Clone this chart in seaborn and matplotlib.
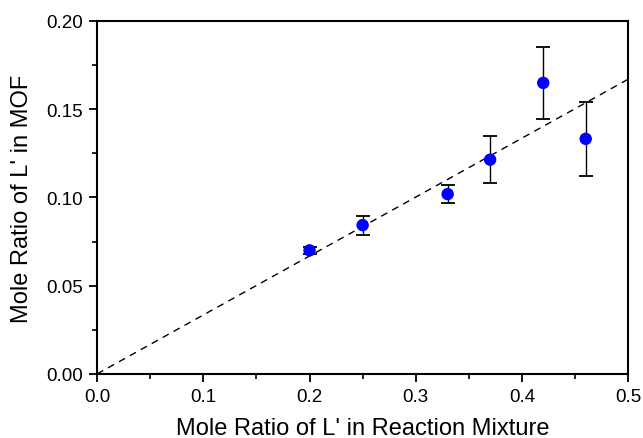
import matplotlib
matplotlib.use('Agg')
import matplotlib.pyplot as plt
from matplotlib.ticker import MultipleLocator, FormatStrFormatter
import numpy as np
import pandas as pd
import seaborn as sns

# data
feed_ratio = [0.20, 0.25, 0.33, 0.37, 0.42, 0.46]
mof_ratio = [0.0700, 0.0843, 0.1019, 0.1214, 0.1649, 0.1332]
mof_err = [0.0020, 0.0054, 0.0051, 0.0133, 0.0205, 0.0210]
fit_slope = 0.334

sns.set_style('ticks')
plt.rcParams['font.family'] = ['Liberation Sans', 'DejaVu Sans']
plt.rcParams['text.color'] = 'black'
plt.rcParams['axes.labelcolor'] = 'black'
plt.rcParams['xtick.color'] = 'black'
plt.rcParams['ytick.color'] = 'black'

df = pd.DataFrame({'feed': feed_ratio, 'mof': mof_ratio, 'err': mof_err})

fig, ax = plt.subplots(figsize=(6.43, 4.39), dpi=100)
fig.subplots_adjust(left=0.151, right=0.977, top=0.95, bottom=0.146)

# dashed reference line through origin
x_line = np.array([0.0, 0.5])
sns.lineplot(x=x_line, y=fit_slope * x_line, ax=ax, color='black',
             linestyle=(0, (5, 4)), linewidth=1.0, zorder=1)

ax.errorbar(df['feed'], df['mof'], yerr=df['err'], fmt='none',
            ecolor='black', elinewidth=1.0, capsize=5, capthick=1.3, zorder=2)
sns.scatterplot(data=df, x='feed', y='mof', ax=ax, color='#0000ff',
                s=80, edgecolor='none', zorder=3)

ax.set_xlim(0, 0.5)
ax.set_ylim(0, 0.20)
ax.xaxis.set_major_locator(MultipleLocator(0.1))
ax.xaxis.set_minor_locator(MultipleLocator(0.05))
ax.yaxis.set_major_locator(MultipleLocator(0.05))
ax.yaxis.set_minor_locator(MultipleLocator(0.025))
ax.xaxis.set_major_formatter(FormatStrFormatter('%.1f'))
ax.yaxis.set_major_formatter(FormatStrFormatter('%.2f'))

ax.tick_params(which='major', direction='out', length=6, width=1.3,
               labelsize=13.5, pad=4)
ax.tick_params(which='minor', direction='out', length=3.5, width=1.2)

for s in ax.spines.values():
    s.set_visible(True)
    s.set_linewidth(1.5)
    s.set_color('black')

ax.set_xlabel("Mole Ratio of L' in Reaction Mixture", fontsize=17, labelpad=9)
ax.set_ylabel("Mole Ratio of L' in MOF", fontsize=17, labelpad=10)

fig.savefig('out.png', dpi=100)
